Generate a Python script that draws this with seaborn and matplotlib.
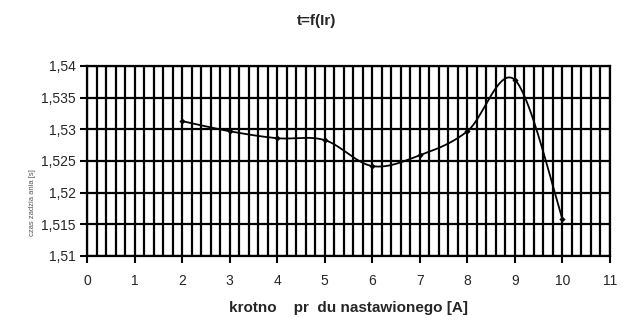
import numpy as np
import pandas as pd
import matplotlib
matplotlib.use("Agg")
import matplotlib.pyplot as plt
from matplotlib.ticker import MultipleLocator, FuncFormatter
import seaborn as sns

# data
krotnosc = [2, 3, 4, 5, 6, 7, 8, 9, 10]
czas = [1.5313, 1.5297, 1.5286, 1.5283, 1.5242, 1.5259, 1.5297, 1.5378, 1.5158]
title = "t=f(Ir)"
xlabel = "krotno    pr  du nastawionego [A]"
ylabel = "czas zadzia ania [s]"

sns.set_style("white")
plt.rcParams['font.family'] = ['Liberation Sans', 'DejaVu Sans']

def smooth(xs, ys, n=40):
    # Excel-like smoothed line (Catmull-Rom as cubic Bezier) used only for drawing
    P = np.column_stack([xs, ys]).astype(float)
    P = np.vstack([P[0], P, P[-1]])
    out = []
    for i in range(1, len(P) - 2):
        p0, p1, p2, p3 = P[i - 1], P[i], P[i + 1], P[i + 2]
        c1 = p1 + (p2 - p0) / 6
        c2 = p2 - (p3 - p1) / 6
        t = np.linspace(0, 1, n)[:, None]
        seg = ((1 - t) ** 3) * p1 + 3 * ((1 - t) ** 2) * t * c1 + 3 * (1 - t) * t ** 2 * c2 + t ** 3 * p2
        out.append(seg if i == 1 else seg[1:])
    c = np.vstack(out)
    return c[:, 0], c[:, 1]

fig = plt.figure(figsize=(6.33, 3.30), dpi=100)
ax = fig.add_axes([87/633, 1 - 256/330, (610 - 87)/633, (256 - 66)/330])

sx, sy = smooth(krotnosc, czas)
curve = pd.DataFrame({"x": sx, "y": sy})
pts = pd.DataFrame({"x": krotnosc, "y": czas})
sns.lineplot(data=curve, x="x", y="y", ax=ax, color="black", linewidth=1.3, sort=False, estimator=None, zorder=5)
sns.scatterplot(data=pts, x="x", y="y", ax=ax, color="black", marker="D", s=10, linewidth=0, zorder=6)

ax.set_xlim(0, 11)
ax.set_ylim(1.51, 1.54)
ax.xaxis.set_major_locator(MultipleLocator(1))
ax.xaxis.set_minor_locator(MultipleLocator(0.2))
ax.yaxis.set_major_locator(MultipleLocator(0.005))
fmt = FuncFormatter(lambda v, p: ("%g" % round(v, 4)).replace(".", ","))
ax.yaxis.set_major_formatter(fmt)
ax.grid(which="major", axis="y", color="black", linewidth=1.6)
ax.grid(which="both", axis="x", color="black", linewidth=1.6)
ax.set_axisbelow(True)
for s in ax.spines.values():
    s.set_color("black")
    s.set_linewidth(1.6)
ax.tick_params(axis="both", which="major", length=5, width=1.5, color="black",
               labelsize=10, direction="out", bottom=True, left=True)
ax.tick_params(axis="x", which="major", pad=8)
ax.tick_params(axis="y", which="major", pad=3)
ax.tick_params(axis="x", which="minor", length=0)

ax.set_xlabel(xlabel, fontsize=11, fontweight="bold", labelpad=9)
ax.set_ylabel("")
fig.text(33/633, 1 - 203/330, ylabel, rotation=90, fontsize=5.5, color="#555555",
         ha="center", va="center")
fig.suptitle(title, x=0.5, y=1 - 21/330, fontsize=11, fontweight="bold", va="center")

fig.savefig("out.png", dpi=100, facecolor="white")
